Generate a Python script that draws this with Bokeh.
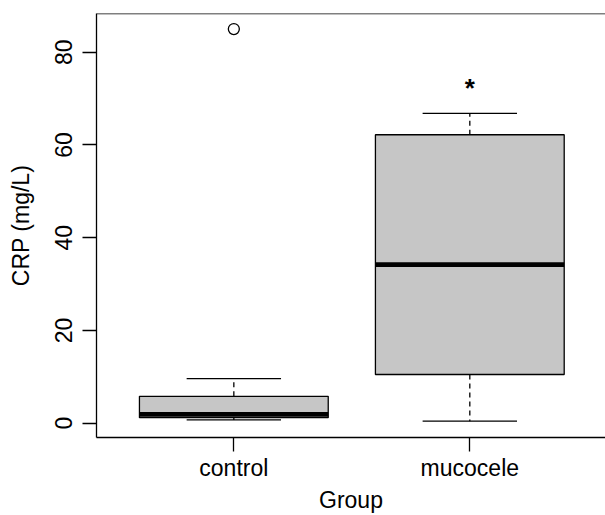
from bokeh.plotting import figure
from bokeh.models import FixedTicker, Range1d, Span, ColumnDataSource
from bokeh.core.properties import value
from bokeh.embed import file_html
from bokeh.resources import INLINE

# ---- data ----
groups = ["control", "mucocele"]
positions = [1, 2]
lower_whisker = [0.7, 0.45]
q1 = [1.2, 10.5]
median = [1.9, 34.2]
q3 = [5.8, 62.2]
upper_whisker = [9.6, 66.8]
outlier_x = [1]
outlier_y = [85.0]
y_ticks = [0, 20, 40, 60, 80]
star_x = [2]
star_y = [72.2]
star_text = ["*"]

FONT = "Liberation Sans"
FS = "23px"
box_w = 0.8
staple_w = 0.4
Y_TOP = 88.35

p = figure(width=605, height=515, output_backend="svg", toolbar_location=None,
           x_range=Range1d(0.418, 2.575), y_range=Range1d(-3.08, Y_TOP),
           min_border_left=96, min_border_right=0, min_border_top=13, min_border_bottom=78)
p.outline_line_color = None
p.xgrid.visible = False
p.ygrid.visible = False
p.background_fill_color = "white"
p.border_fill_color = "white"

src = ColumnDataSource(dict(
    x=positions,
    left=[x - box_w / 2 for x in positions],
    right=[x + box_w / 2 for x in positions],
    sl=[x - staple_w / 2 for x in positions],
    sr=[x + staple_w / 2 for x in positions],
    lw=lower_whisker, q1=q1, med=median, q3=q3, uw=upper_whisker,
))

# whiskers (dashed)
p.segment(x0="x", y0="q3", x1="x", y1="uw", source=src, line_color="black",
          line_width=1.3, line_dash="5 4")
p.segment(x0="x", y0="q1", x1="x", y1="lw", source=src, line_color="black",
          line_width=1.3, line_dash="5 4")
# staples
p.segment(x0="sl", y0="uw", x1="sr", y1="uw", source=src, line_color="black", line_width=1.3)
p.segment(x0="sl", y0="lw", x1="sr", y1="lw", source=src, line_color="black", line_width=1.3)
# boxes
p.quad(left="left", right="right", bottom="q1", top="q3", source=src,
       fill_color="#c6c6c6", line_color="black", line_width=1.3)
# medians
p.segment(x0="left", y0="med", x1="right", y1="med", source=src, line_color="black",
          line_width=4.7, line_cap="butt")
# outlier
p.scatter(outlier_x, outlier_y, marker="circle", size=11, fill_color=None,
          line_color="black", line_width=1.3)
# significance star
p.text(star_x, star_y, text=star_text, text_font=value(FONT), text_font_size="26px",
       text_align="center", text_baseline="alphabetic", text_color="black",
       text_font_style="bold")

# top frame line
p.add_layout(Span(location=Y_TOP, dimension="width", line_color="black", line_width=1.3))

# axes
for ax in (p.xaxis[0], p.yaxis[0]):
    ax.axis_line_color = "black"
    ax.axis_line_width = 1.3
    ax.major_tick_line_color = "black"
    ax.major_tick_line_width = 1.3
    ax.minor_tick_line_color = None
    ax.major_tick_in = 0
    ax.major_tick_out = 14
    ax.major_label_text_font = FONT
    ax.major_label_text_font_size = FS
    ax.major_label_text_color = "black"
    ax.axis_label_text_font = FONT
    ax.axis_label_text_font_size = FS
    ax.axis_label_text_font_style = "normal"
    ax.axis_label_text_color = "black"

p.xaxis.ticker = FixedTicker(ticks=positions)
p.xaxis.major_label_overrides = {pos: g for pos, g in zip(positions, groups)}
p.xaxis.axis_label = "Group"
p.xaxis.major_label_standoff = 3
p.xaxis.axis_label_standoff = 3

p.yaxis.ticker = FixedTicker(ticks=y_ticks)
p.yaxis.major_label_orientation = "vertical"
p.yaxis.axis_label = "CRP (mg/L)"
p.yaxis.major_label_standoff = 10
p.yaxis.axis_label_standoff = 19

open("out.html", "w").write(file_html(p, INLINE))
